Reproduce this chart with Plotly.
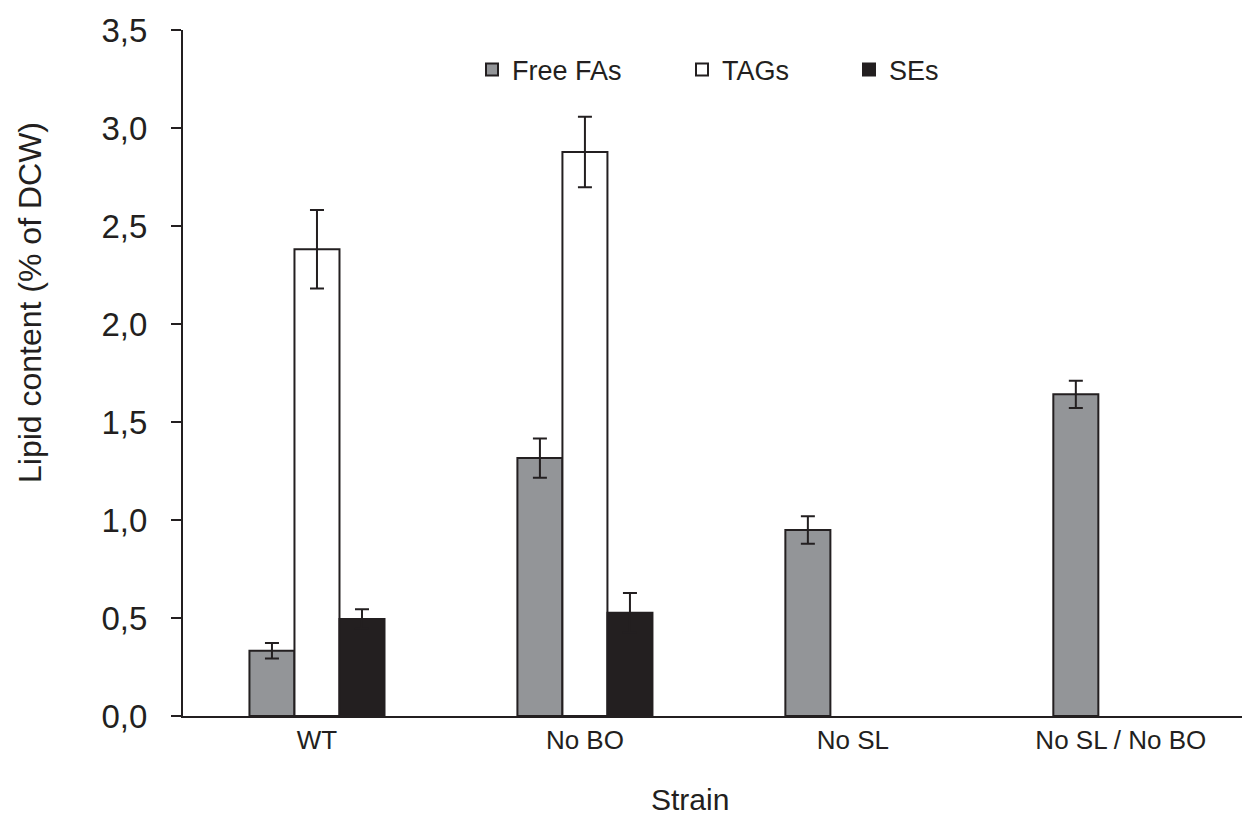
import plotly.graph_objects as go

strains = ["WT", "No BO", "No SL", "No SL / No BO"]
ffa = [0.333, 1.316, 0.949, 1.641]
ffa_err = [0.04, 0.10, 0.07, 0.07]
tag = [2.381, 2.878, None, None]
tag_err = [0.20, 0.18, None, None]
se = [0.495, 0.527, None, None]
se_err = [0.05, 0.10, None, None]

OFF = 8  # page body margin
W, H = 1250 - OFF, 819 - OFF
L, R, T, B = 183 - OFF, 0, 30 - OFF, 103
pw = W - L - R
ph = H - T - B

def px(x):
    return (x - OFF - L) / pw

def py(y):
    return (H - B - (y - OFF)) / ph

font = "Arial, Liberation Sans, sans-serif"
dark = "#231f20"

fig = go.Figure()
series = [
    ("Free FAs", ffa, ffa_err, "#939598", "legend"),
    ("TAGs", tag, tag_err, "#ffffff", "legend2"),
    ("SEs", se, se_err, dark, "legend3"),
]
for name, vals, errs, col, lg in series:
    fig.add_trace(go.Bar(
        name=name, x=strains, y=vals, showlegend=True,
        marker=dict(color=col, line=dict(color=dark, width=2)),
        error_y=dict(type="data", array=errs, symmetric=True,
                     color=dark, thickness=2, width=7),
        legend=lg,
    ))

leg_common = dict(orientation="h", yanchor="middle", xanchor="left",
                  y=py(70), bgcolor="rgba(0,0,0,0)",
                  font=dict(family=font, size=27, color=dark))
fig.update_layout(
    width=W, height=H, showlegend=True,
    margin=dict(l=L, r=R, t=T, b=B, pad=0),
    plot_bgcolor="white", paper_bgcolor="white",
    barmode="group", bargap=0.496, bargroupgap=0,
    separators=",.",
    font=dict(family=font, color=dark),
    legend=dict(x=px(472), **leg_common),
    legend2=dict(x=px(682), **leg_common),
    legend3=dict(x=px(849), **leg_common),
    xaxis=dict(range=[-0.5, 3.482], showline=True, linecolor=dark, linewidth=2,
               ticks="", showgrid=False, zeroline=False,
               tickfont=dict(family=font, size=26, color=dark)),
    yaxis=dict(range=[0, 3.5], dtick=0.5, tickformat=".1f", showline=True,
               linecolor=dark, linewidth=2, ticks="outside", ticklen=10,
               tickwidth=2, tickcolor=dark, showgrid=False, zeroline=False,
               ticklabelstandoff=17,
               tickfont=dict(family=font, size=33, color=dark)),
    annotations=[
        dict(text="Lipid content (% of DCW)", textangle=-90, showarrow=False,
             xref="paper", yref="paper", x=px(30), y=py(303),
             xanchor="center", yanchor="middle",
             font=dict(family=font, size=32, color=dark)),
        dict(text="Strain", showarrow=False, xref="paper", yref="paper",
             x=px(690), y=py(799), xanchor="center", yanchor="middle",
             font=dict(family=font, size=30, color=dark)),
    ],
)
fig.write_html("out.html")
